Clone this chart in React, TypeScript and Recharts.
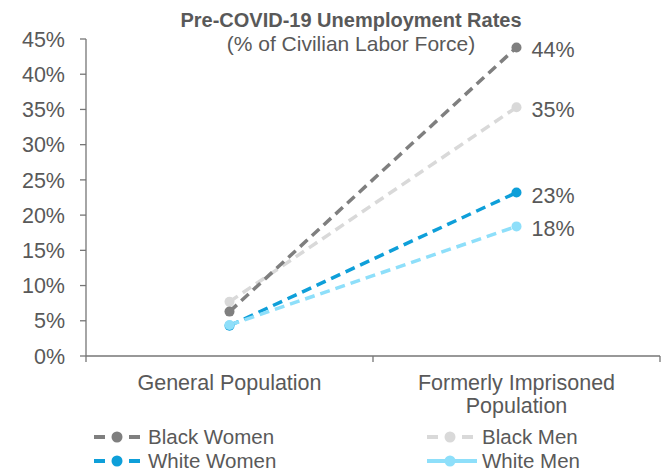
import { LineChart, Line, XAxis, YAxis, Legend } from 'recharts';

const categories = ['General Population', 'Formerly Imprisoned Population'];
const blackWomen = [6.3, 43.8];
const blackMen = [7.7, 35.3];
const whiteWomen = [4.3, 23.2];
const whiteMen = [4.4, 18.4];
const yTicks = [0, 5, 10, 15, 20, 25, 30, 35, 40, 45];

const FONT = '"Liberation Sans", Arial, sans-serif';
const TEXT = '#595959';
const AXIS = '#767676';

// draw order matters where the left ends overlap
const series = [
  { key: 'blackMen', name: 'Black Men', color: '#d9d9d9', values: blackMen, legendDash: true },
  { key: 'blackWomen', name: 'Black Women', color: '#7f7f7f', values: blackWomen, legendDash: true },
  { key: 'whiteWomen', name: 'White Women', color: '#0e9fd9', values: whiteWomen, legendDash: true },
  { key: 'whiteMen', name: 'White Men', color: '#8edffa', values: whiteMen, legendDash: false },
];
const legendOrder = ['blackWomen', 'blackMen', 'whiteWomen', 'whiteMen'];

const data = categories.map((name, i) => {
  const row: Record<string, number | string> = { name, x: i + 0.5 };
  series.forEach((s) => {
    row[s.key] = s.values[i];
  });
  return row;
});

// simple word wrap by character count
function wrap(label: string, maxChars: number) {
  const lines: string[] = [];
  let cur = '';
  label.split(' ').forEach((w) => {
    const next = cur ? `${cur} ${w}` : w;
    if (next.length > maxChars && cur) {
      lines.push(cur);
      cur = w;
    } else {
      cur = next;
    }
  });
  if (cur) lines.push(cur);
  return lines;
}

function CategoryTick(props: any) {
  const { x, y, payload } = props;
  const v = payload.value as number;
  if (Number.isInteger(v)) {
    return <line x1={x} x2={x} y1={y - 6} y2={y} stroke={AXIS} strokeWidth={1.3} />;
  }
  const lines = wrap(categories[Math.floor(v)], 20);
  return (
    <text x={x} y={y + 28} textAnchor="middle" fill={TEXT} style={{ fontFamily: FONT, fontSize: 21.5 }}>
      {lines.map((l, i) => (
        <tspan key={i} x={x} dy={i === 0 ? 0 : 23}>
          {l}
        </tspan>
      ))}
    </text>
  );
}

function EndLabel(props: any) {
  const { x, y, index, value } = props;
  if (index !== categories.length - 1) return null;
  return (
    <text x={x + 15} y={y + 10} fill={TEXT} style={{ fontFamily: FONT, fontSize: 21.5 }}>
      {Math.round(value)}%
    </text>
  );
}

function LegendIcon({ color, dash }: { color: string; dash: boolean }) {
  return (
    <svg width={50} height={20} style={{ display: 'block' }}>
      {dash ? (
        <>
          <line x1={0} x2={11} y1={10} y2={10} stroke={color} strokeWidth={4} />
          <line x1={35} x2={46} y1={10} y2={10} stroke={color} strokeWidth={4} />
        </>
      ) : (
        <line x1={0} x2={50} y1={10} y2={10} stroke={color} strokeWidth={4} />
      )}
      <circle cx={23} cy={10} r={5.5} fill={color} />
    </svg>
  );
}

function ChartLegend() {
  const cols = [94, 427];
  return (
    <div style={{ position: 'relative', width: 664, height: 48, fontFamily: FONT }}>
      {legendOrder.map((k, i) => {
        const s = series.find((d) => d.key === k)!;
        return (
          <div
            key={k}
            style={{
              position: 'absolute',
              left: cols[i % 2],
              top: Math.floor(i / 2) * 24,
              display: 'flex',
              alignItems: 'center',
              height: 24,
              lineHeight: '24px',
              fontSize: 20.5,
              color: TEXT,
              whiteSpace: 'nowrap',
            }}
          >
            <LegendIcon color={s.color} dash={s.legendDash} />
            <span style={{ marginLeft: i % 2 === 0 ? 4 : 5 }}>{s.name}</span>
          </div>
        );
      })}
    </div>
  );
}

const titleBase = {
  position: 'absolute' as const,
  left: 0,
  width: 702,
  textAlign: 'center' as const,
  fontFamily: FONT,
  color: TEXT,
  zIndex: 2,
  pointerEvents: 'none' as const,
  whiteSpace: 'nowrap' as const,
};

export default function App() {
  return (
    <div style={{ position: 'absolute', left: 0, top: 0, width: 664, height: 473, background: '#fff', overflow: 'hidden' }}>
      <div style={{ ...titleBase, top: 9, fontWeight: 'bold', fontSize: 20, lineHeight: '23px' }}>
        Pre-COVID-19 Unemployment Rates
      </div>
      <div style={{ ...titleBase, top: 32, fontSize: 21, lineHeight: '24px' }}>(% of Civilian Labor Force)</div>
      <LineChart width={664} height={473} data={data} margin={{ top: 39, right: 4, bottom: 87, left: 0 }}>
        <YAxis
          domain={[0, 45]}
          ticks={yTicks}
          width={86}
          tickFormatter={(v: number) => `${v}%`}
          tickSize={6}
          tickMargin={15}
          axisLine={{ stroke: AXIS, strokeWidth: 1.3 }}
          tickLine={{ stroke: AXIS, strokeWidth: 1.3 }}
          tick={{ fill: TEXT, fontSize: 21.5, fontFamily: FONT }}
        />
        <XAxis
          type="number"
          dataKey="x"
          domain={[0, 2]}
          ticks={[0, 0.5, 1, 1.5, 2]}
          height={30}
          tickSize={6}
          tickMargin={0}
          tickLine={false}
          axisLine={{ stroke: AXIS, strokeWidth: 1.3 }}
          tick={<CategoryTick />}
          interval={0}
        />
        <Legend
          verticalAlign="middle"
          wrapperStyle={{ top: 425, left: 0, width: 664 }}
          content={() => <ChartLegend />}
        />
        {series.map((s) => (
          <Line
            key={s.key}
            dataKey={s.key}
            name={s.name}
            stroke={s.color}
            strokeWidth={3.5}
            strokeDasharray="10 6"
            dot={{ r: 5, fill: s.color, stroke: s.color, strokeWidth: 0 }}
            isAnimationActive={false}
            label={<EndLabel />}
          />
        ))}
      </LineChart>
    </div>
  );
}
